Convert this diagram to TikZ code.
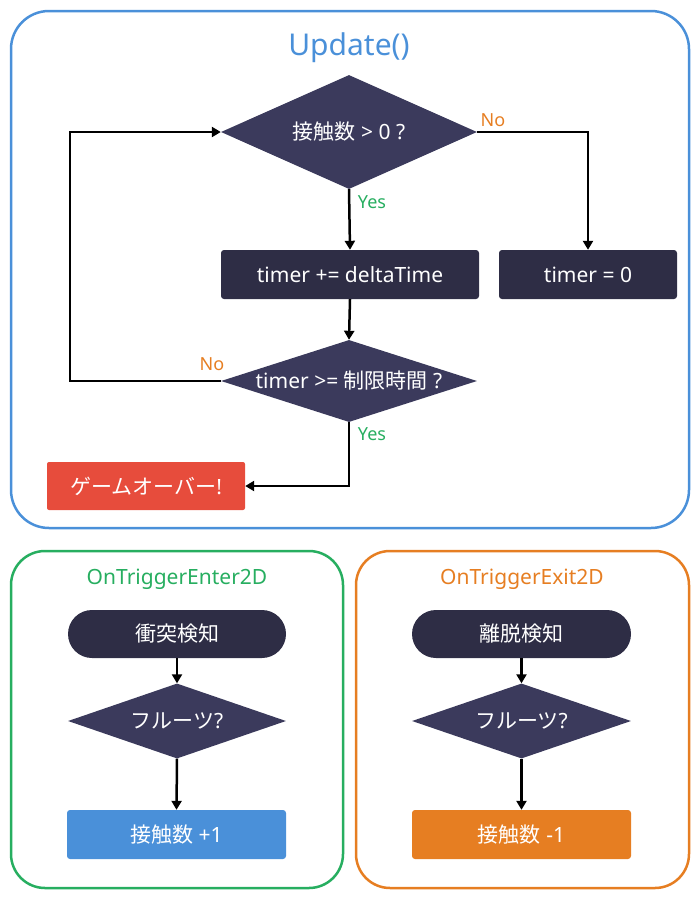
\documentclass[tikz,border=0pt]{standalone}
\usepackage{fontspec}
\setmainfont{Noto Sans}
\newfontfamily\jp{Noto Sans CJK JP}
\usetikzlibrary{shapes.geometric,arrows.meta}
\definecolor{updblue}{HTML}{4A90D9}
\definecolor{entgreen}{HTML}{27AE60}
\definecolor{extorange}{HTML}{E67E22}
\definecolor{navy}{HTML}{2E2D45}
\definecolor{slate}{HTML}{3B3A5C}
\definecolor{alertred}{HTML}{E74C3C}

\tikzset{
  frame/.style={line width=2.5pt, rounded corners=38pt},
  procbox/.style={fill=navy, text=white, rounded corners=3pt, inner sep=0pt,
    font=\fontsize{21}{24}\selectfont},
  termbox/.style={procbox, rounded corners=24pt},
  decision/.style={diamond, fill=slate, inner sep=0pt},
  dlabel/.style={text=white, font=\fontsize{21}{24}\selectfont},
  flow/.style={line width=2.5pt, -{Triangle[length=9pt,width=10pt]}},
  yeslbl/.style={text=entgreen, font=\fontsize{18}{20}\selectfont},
  nolbl/.style={text=extorange, font=\fontsize{18}{20}\selectfont},
  title/.style={font=\fontsize{21}{24}\selectfont}
}

\begin{document}
\begin{tikzpicture}[x=1pt,y=-1pt]
    \useasboundingbox (0,0) rectangle (700,900);
    \draw[frame,updblue] (11,11) rectangle (689,528);
    \draw[frame,entgreen,rounded corners=34pt] (11,551) rectangle (343,888);
    \draw[frame,extorange,rounded corners=34pt] (356,551) rectangle (689,888);
    \node[title,text=updblue,font=\fontsize{30}{34}\selectfont] (updtitle) at (349,48) {Update()};
    \node[title,text=entgreen] (enttitle) at (177,579) {OnTriggerEnter2D};
    \node[title,text=extorange] (exttitle) at (522,579) {OnTriggerExit2D};

    \node[decision,minimum width=256pt,minimum height=114pt,
      label={[dlabel]center:{\jp 接触数} > 0 ?}] (check) at (349,132) {};
    \node[procbox,minimum width=258pt,minimum height=49pt] (add) at (350,274.5) {timer += deltaTime};
    \node[procbox,minimum width=178pt,minimum height=49pt] (reset) at (588,274.5) {timer = 0};
    \node[decision,minimum width=256pt,minimum height=82pt,
      label={[dlabel]center:timer >= {\jp 制限時間} ?}] (limit) at (349,381) {};
    \node[procbox,fill=alertred,rounded corners=2pt,minimum width=198pt,minimum height=48pt] (over) at (146,486) {{\jp ゲームオーバー}!};
    \coordinate (loop) at (70,381);
    \node[yeslbl] (yes1) at (372,202) {Yes};
    \node[nolbl] (no1) at (493,120) {No};
    \node[nolbl] (no2) at (212,364) {No};
    \node[yeslbl] (yes2) at (372,434) {Yes};
    \draw[flow] (check.south) -- (add.north);
    \draw[flow] (check.east) -| (reset.north);
    \draw[flow] (add.south) -- (limit.north);
    \draw[flow] (limit.west) -- (loop) |- (check.west);
    \draw[flow] (limit.south) |- (over.east);

    \node[termbox,minimum width=218pt,minimum height=48pt,font=\fontsize{21}{24}\jp] (hit) at (177,634) {衝突検知};
    \node[decision,minimum width=218pt,minimum height=75pt,
      label={[dlabel]center:{\jp フルーツ}?}] (fruitin) at (177,721) {};
    \node[procbox,fill=updblue,minimum width=219pt,minimum height=49pt] (inc) at (176.5,834.5) {{\jp 接触数} +1};
    \draw[flow] (hit.south) -- (fruitin.north);
    \draw[flow] (fruitin.south) -- (inc.north);

    \node[termbox,minimum width=219pt,minimum height=48pt,font=\fontsize{21}{24}\jp] (leave) at (521.5,634) {離脱検知};
    \node[decision,minimum width=219pt,minimum height=75pt,
      label={[dlabel]center:{\jp フルーツ}?}] (fruitout) at (521.5,721) {};
    \node[procbox,fill=extorange,minimum width=219pt,minimum height=49pt] (dec) at (521.5,834.5) {{\jp 接触数} -1};
    \draw[flow] (leave.south) -- (fruitout.north);
    \draw[flow] (fruitout.south) -- (dec.north);
\end{tikzpicture}
\end{document}
